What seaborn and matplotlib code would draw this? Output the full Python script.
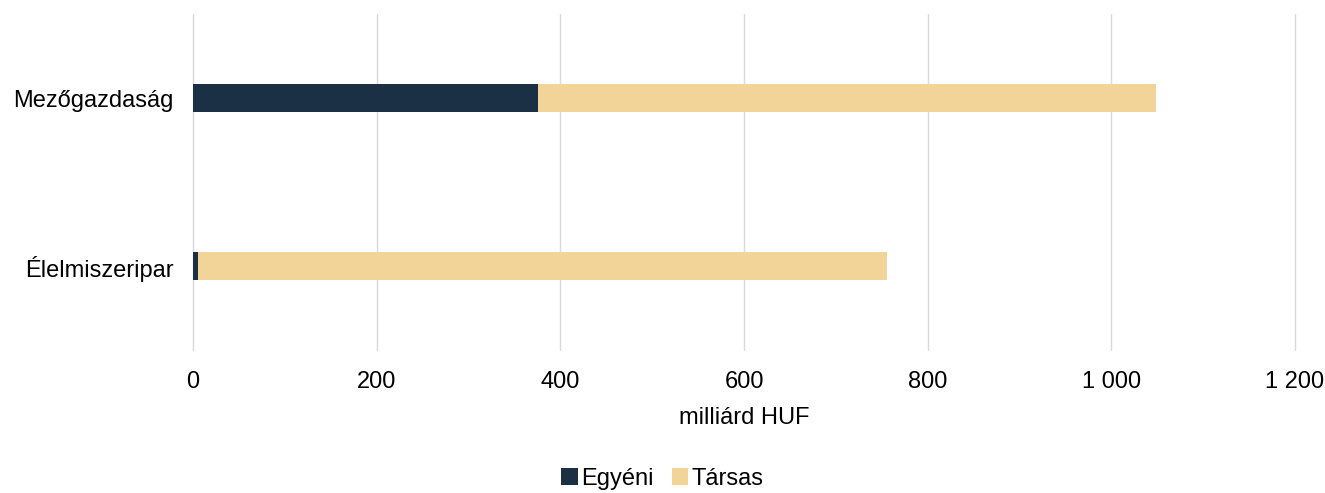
import matplotlib
matplotlib.use('Agg')
import matplotlib.pyplot as plt
import matplotlib.ticker as mticker
import seaborn as sns
import pandas as pd

# data (milliárd HUF)
categories = ['Mezőgazdaság', 'Élelmiszeripar']
egyeni = [376, 5]
tarsas = [673, 751]

NAVY = '#1b3045'
TAN = '#f2d398'
FS = 17

sns.set_theme(style='white')
plt.rcParams['font.family'] = ['Liberation Sans', 'DejaVu Sans']
plt.rcParams['text.color'] = '#000000'

df = pd.DataFrame({'cat': categories, 'Egyéni': egyeni,
                   'Társas': [e + t for e, t in zip(egyeni, tarsas)]})

fig = plt.figure(figsize=(13.25, 4.93), dpi=100)
ax = fig.add_axes([0.1457, 0.290, 0.8317, 0.6816])

# stacked bars: draw total first, then the bottom segment on top
sns.barplot(data=df, y='cat', x='Társas', color=TAN, width=0.167,
            ax=ax, saturation=1, label='Társas', linewidth=0)
sns.barplot(data=df, y='cat', x='Egyéni', color=NAVY, width=0.167,
            ax=ax, saturation=1, label='Egyéni', linewidth=0)

ax.set_xlim(0, 1200)
ax.set_ylim(1.5, -0.5)
ax.set_xticks(range(0, 1201, 200))
ax.xaxis.set_major_formatter(mticker.FuncFormatter(
    lambda v, p: f'{int(v):,}'.replace(',', ' ')))
ax.grid(axis='x', color='#d9d9d9', linewidth=1)
for gl in ax.get_xgridlines():
    gl.set_clip_on(False)
ax.set_axisbelow(True)
for s in ax.spines.values():
    s.set_visible(False)
ax.tick_params(axis='both', length=0, labelsize=FS, colors='#000000')
ax.tick_params(axis='x', pad=15)
ax.tick_params(axis='y', pad=14)
ax.set_ylabel('')
ax.set_xlabel('milliárd HUF', fontsize=FS, color='#000000', labelpad=10)

handles, labels = ax.get_legend_handles_labels()
if ax.get_legend() is not None:
    ax.get_legend().remove()
order = [labels.index('Egyéni'), labels.index('Társas')]
fig.legend([handles[i] for i in order], [labels[i] for i in order],
           loc='center', bbox_to_anchor=(0.5, 1 - 479 / 493),
           ncol=2, frameon=False, fontsize=FS, handlelength=0.7, handleheight=0.7,
           handletextpad=0.15, columnspacing=0.75, borderpad=0,
           labelcolor='#000000')

fig.savefig('out.png', dpi=100)
